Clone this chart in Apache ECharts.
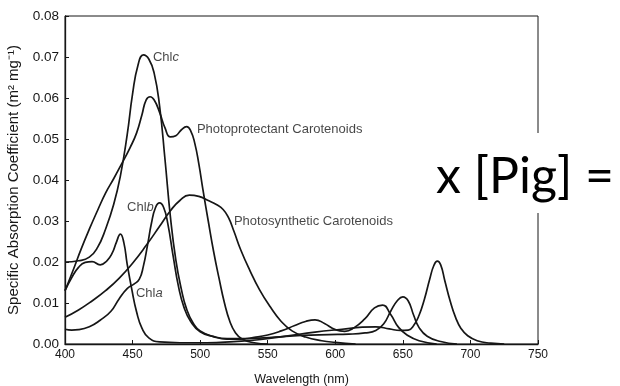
<!DOCTYPE html>
<html>
<head>
<meta charset="utf-8">
<script src="https://cdn.jsdelivr.net/npm/echarts@6/dist/echarts.min.js"></script>
<style>
  html, body { margin: 0; padding: 0; background: #fff; }
  #chart { width: 620px; height: 386px; }
</style>
</head>
<body>
<div id="chart"></div>
<script>
// Axis ticks
const xTicks = [400, 450, 500, 550, 600, 650, 700, 750];
const yTicks = [0, 0.01, 0.02, 0.03, 0.04, 0.05, 0.06, 0.07, 0.08];

// Chlorophyll c
const chlcNm  = [400, 410, 418, 424, 430, 436, 441, 446, 450, 454, 458, 462, 466, 470, 474, 478, 482, 486, 490, 495, 500, 510, 520, 530, 540, 550, 560, 570, 578, 585, 592, 600, 607, 614, 622, 629, 635, 641, 647, 654, 662, 675];
const chlcVal = [0.0200, 0.0203, 0.0212, 0.0235, 0.0280, 0.0340, 0.0410, 0.0510, 0.0610, 0.0680, 0.0705, 0.0695, 0.0660, 0.0580, 0.0450, 0.0310, 0.0205, 0.0135, 0.0085, 0.0050, 0.0032, 0.0018, 0.0012, 0.0012, 0.0016, 0.0022, 0.0032, 0.0045, 0.0055, 0.0059, 0.0050, 0.0035, 0.0031, 0.0040, 0.0062, 0.0088, 0.0095, 0.0072, 0.0040, 0.0020, 0.0008, 0.0000];

// Photoprotectant carotenoids
const ppcNm  = [400, 406, 412, 418, 424, 430, 436, 442, 448, 453, 457, 460, 463, 466, 470, 474, 478, 482, 486, 490, 493, 496, 499, 502, 506, 510, 514, 518, 522, 526, 531, 540, 550];
const ppcVal = [0.0130, 0.0180, 0.0232, 0.0280, 0.0325, 0.0368, 0.0403, 0.0440, 0.0478, 0.0515, 0.0560, 0.0595, 0.0603, 0.0595, 0.0565, 0.0527, 0.0505, 0.0508, 0.0522, 0.0530, 0.0520, 0.0490, 0.0440, 0.0378, 0.0300, 0.0225, 0.0160, 0.0100, 0.0055, 0.0028, 0.0012, 0.0003, 0.0000];

// Chlorophyll b
const chlbNm  = [400, 405, 410, 418, 426, 434, 440, 446, 451, 455, 458, 461, 464, 467, 470, 473, 476, 480, 484, 488, 493, 500, 510, 520, 535, 555, 575, 595, 610, 622, 630, 636, 641, 646, 650, 654, 658, 662, 668, 678, 690];
const chlbVal = [0.0036, 0.0034, 0.0035, 0.0042, 0.0058, 0.0080, 0.0110, 0.0135, 0.0146, 0.0158, 0.0190, 0.0240, 0.0295, 0.0333, 0.0344, 0.0333, 0.0295, 0.0215, 0.0140, 0.0090, 0.0055, 0.0030, 0.0018, 0.0013, 0.0013, 0.0017, 0.0021, 0.0023, 0.0024, 0.0027, 0.0033, 0.0050, 0.0080, 0.0106, 0.0115, 0.0105, 0.0070, 0.0040, 0.0019, 0.0006, 0.0000];

// Photosynthetic carotenoids
const pscNm  = [400, 410, 420, 430, 440, 450, 460, 470, 478, 485, 492, 499, 506, 512, 517, 521, 525, 530, 537, 544, 552, 560, 568, 578, 590, 600, 615];
const pscVal = [0.0065, 0.0083, 0.0105, 0.0130, 0.0160, 0.0197, 0.0240, 0.0287, 0.0325, 0.0350, 0.0363, 0.0360, 0.0350, 0.0340, 0.0328, 0.0308, 0.0275, 0.0230, 0.0178, 0.0132, 0.0090, 0.0055, 0.0032, 0.0017, 0.0008, 0.0004, 0.0000];

// Chlorophyll a
const chlaNm  = [400, 405, 410, 415, 420, 426, 431, 435, 438, 441, 443.5, 446, 449.5, 453, 457, 462, 470, 485, 505, 525, 545, 565, 585, 605, 620, 630, 640, 648, 654, 658, 662, 666, 670, 673, 675.5, 678, 681, 685, 689, 693, 698, 705, 715, 725];
const chlaVal = [0.0130, 0.0162, 0.0187, 0.0199, 0.0201, 0.0193, 0.0203, 0.0222, 0.0248, 0.0268, 0.0248, 0.0195, 0.0132, 0.0078, 0.0038, 0.0015, 0.0005, 0.0003, 0.0003, 0.0006, 0.0011, 0.0020, 0.0029, 0.0036, 0.0041, 0.0042, 0.0037, 0.0033, 0.0034, 0.0045, 0.0070, 0.0110, 0.0160, 0.0192, 0.0202, 0.0193, 0.0155, 0.0105, 0.0065, 0.0038, 0.0020, 0.0008, 0.0002, 0.0000];

// Curve labels, anchored in data space (wavelength, coefficient)
const labelNames = ['Chlc', 'Photoprotectant Carotenoids', 'Chlb', 'Photosynthetic Carotenoids', 'Chla'];
const labelNm    = [465.1, 497.6, 445.9, 525.0, 452.5];
const labelVal   = [0.0700, 0.0524, 0.0334, 0.0298, 0.0124];

const zip = (xs, ys) => xs.map((x, i) => [x, ys[i]]);
const ink = '#161616';
const font = '"Liberation Sans", Arial, Helvetica, sans-serif';

function curve(name, xs, ys) {
  return {
    name, type: 'line', data: zip(xs, ys),
    smooth: 0.5, showSymbol: false, silent: true,
    lineStyle: { color: ink, width: 1.7 }
  };
}

function labelText(name) {
  const m = name.match(/^Chl([abc])$/);
  return m ? '{n|Chl}{i|' + m[1] + '}' : '{n|' + name + '}';
}

const chart = echarts.init(document.getElementById('chart'), null, { renderer: 'canvas' });
chart.setOption({
  animation: false,
  backgroundColor: '#fff',
  grid: {
    left: 65, right: 82, top: 16, bottom: 42, outerBoundsMode: 'none', containLabel: false,
    show: true, borderColor: ink, borderWidth: 1, backgroundColor: 'transparent'
  },
  xAxis: {
    type: 'value', min: xTicks[0], max: xTicks[xTicks.length - 1], interval: 50,
    name: 'Wavelength (nm)', nameLocation: 'middle', nameGap: 29,
    nameTextStyle: { fontFamily: font, fontSize: 12.5, color: ink },
    axisLine: { lineStyle: { color: ink, width: 1.3 } },
    axisTick: { inside: true, length: 4, lineStyle: { color: ink } },
    axisLabel: { fontFamily: font, fontSize: 12, color: ink, margin: 5 },
    splitLine: { show: false }
  },
  yAxis: {
    type: 'value', min: yTicks[0], max: yTicks[yTicks.length - 1], interval: 0.01,
    name: 'Specific Absorption Coefficient (m² mg⁻¹)', nameLocation: 'middle', nameGap: 44,
    nameTextStyle: { fontFamily: font, fontSize: 15, color: ink },
    axisLine: { lineStyle: { color: ink, width: 1.3 } },
    axisTick: { inside: true, length: 4, lineStyle: { color: ink } },
    axisLabel: { fontFamily: font, fontSize: 13.5, color: ink, margin: 6, formatter: v => v.toFixed(2) },
    splitLine: { show: false }
  },
  series: [
    curve('Chlc', chlcNm, chlcVal),
    curve('Photoprotectant Carotenoids', ppcNm, ppcVal),
    curve('Chlb', chlbNm, chlbVal),
    curve('Photosynthetic Carotenoids', pscNm, pscVal),
    curve('Chla', chlaNm, chlaVal),
    {
      name: 'labels', type: 'scatter', symbolSize: 0, silent: true,
      data: labelNames.map((n, i) => ({ name: n, value: [labelNm[i], labelVal[i]] })),
      label: {
        show: true, position: 'right', distance: 0,
        formatter: p => labelText(p.name),
        rich: {
          n: { fontFamily: font, fontSize: 13, color: ink },
          i: { fontFamily: font, fontSize: 13, color: ink, fontStyle: 'italic' }
        }
      }
    }
  ],
  graphic: [
    { type: 'rect', left: 430, top: 133, shape: { width: 190, height: 80 }, style: { fill: '#fff' }, z: 100 },
    { type: 'text', left: 436, top: 152, z: 101,
      style: { text: 'x [Pig] =', font: '50px Lato, "Open Sans", sans-serif', fill: '#000' } }
  ]
});
</script>
</body>
</html>
